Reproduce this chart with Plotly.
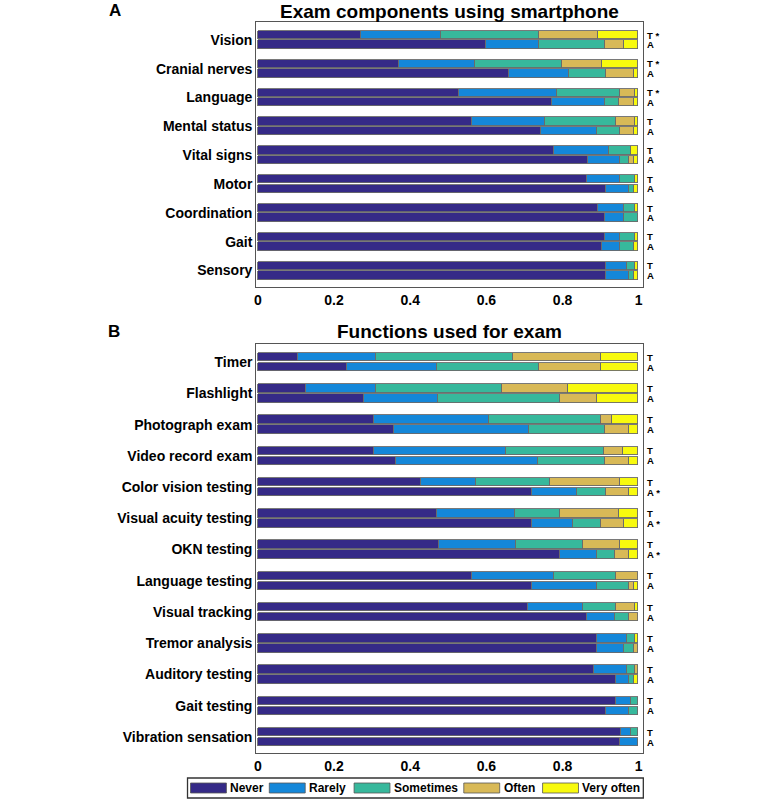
import plotly.graph_objects as go

# ---------------- data ----------------
levels = ["Never", "Rarely", "Sometimes", "Often", "Very often"]
colors = ["#352a87", "#1487d9", "#37b89c", "#d8b957", "#f8fa0e"]

exam_cats = ["Vision", "Cranial nerves", "Language", "Mental status", "Vital signs",
             "Motor", "Coordination", "Gait", "Sensory"]
exam_T_never     = [0.271, 0.372, 0.530, 0.564, 0.779, 0.864, 0.895, 0.913, 0.914]
exam_T_rarely    = [0.210, 0.199, 0.257, 0.192, 0.144, 0.087, 0.066, 0.038, 0.056]
exam_T_sometimes = [0.259, 0.229, 0.164, 0.186, 0.058, 0.039, 0.029, 0.039, 0.020]
exam_T_often     = [0.155, 0.105, 0.039, 0.049, 0.000, 0.000, 0.000, 0.000, 0.000]
exam_T_veryoften = [0.105, 0.095, 0.010, 0.009, 0.019, 0.010, 0.010, 0.010, 0.010]
exam_A_never     = [0.601, 0.659, 0.773, 0.744, 0.867, 0.916, 0.913, 0.904, 0.916]
exam_A_rarely    = [0.137, 0.158, 0.138, 0.146, 0.084, 0.059, 0.050, 0.047, 0.059]
exam_A_sometimes = [0.174, 0.098, 0.038, 0.061, 0.023, 0.013, 0.037, 0.037, 0.013]
exam_A_often     = [0.051, 0.074, 0.039, 0.037, 0.014, 0.000, 0.000, 0.000, 0.000]
exam_A_veryoften = [0.037, 0.011, 0.012, 0.012, 0.012, 0.012, 0.000, 0.012, 0.012]
exam_T_star = [True, True, True, False, False, False, False, False, False]
exam_A_star = [False] * 9

func_cats = ["Timer", "Flashlight", "Photograph exam", "Video record exam",
             "Color vision testing", "Visual acuity testing", "OKN testing",
             "Language testing", "Visual tracking", "Tremor analysis",
             "Auditory testing", "Gait testing", "Vibration sensation"]
func_T_never     = [0.107, 0.127, 0.305, 0.307, 0.428, 0.470, 0.477, 0.564, 0.710, 0.892, 0.884, 0.942, 0.953]
func_T_rarely    = [0.204, 0.184, 0.303, 0.346, 0.145, 0.205, 0.202, 0.214, 0.144, 0.078, 0.086, 0.039, 0.028]
func_T_sometimes = [0.359, 0.330, 0.294, 0.257, 0.194, 0.118, 0.175, 0.164, 0.088, 0.020, 0.021, 0.019, 0.019]
func_T_often     = [0.232, 0.175, 0.029, 0.049, 0.184, 0.156, 0.097, 0.058, 0.049, 0.000, 0.009, 0.000, 0.000]
func_T_veryoften = [0.098, 0.184, 0.069, 0.041, 0.049, 0.051, 0.049, 0.000, 0.009, 0.010, 0.000, 0.000, 0.000]
func_A_never     = [0.235, 0.280, 0.359, 0.363, 0.720, 0.720, 0.794, 0.720, 0.865, 0.890, 0.940, 0.916, 0.952]
func_A_rarely    = [0.235, 0.195, 0.355, 0.374, 0.120, 0.109, 0.096, 0.170, 0.074, 0.073, 0.035, 0.059, 0.048]
func_A_sometimes = [0.270, 0.318, 0.199, 0.175, 0.075, 0.073, 0.049, 0.085, 0.036, 0.025, 0.013, 0.025, 0.000]
func_A_often     = [0.162, 0.097, 0.062, 0.063, 0.060, 0.061, 0.036, 0.013, 0.025, 0.012, 0.000, 0.000, 0.000]
func_A_veryoften = [0.098, 0.110, 0.025, 0.025, 0.025, 0.037, 0.025, 0.012, 0.000, 0.000, 0.012, 0.000, 0.000]
func_T_star = [False] * 13
func_A_star = [False, False, False, False, True, True, True, False, False, False, False, False, False]

xticks = [0, 0.2, 0.4, 0.6, 0.8, 1]
xticktext = ["0", "0.2", "0.4", "0.6", "0.8", "1"]

# ---------------- layout helpers ----------------
W, H = 766, 799
FONT = "Liberation Sans, Arial, Helvetica, sans-serif"


def px(x):
    return x / W


def py(y):
    return 1 - y / H


fig = go.Figure()


def add_panel(cats, T_lists, A_lists, xa, ya, off, bw):
    n = len(cats)
    yT = [i - off for i in range(n)]
    yA = [i + off for i in range(n)]
    for k, lev in enumerate(levels):
        xs = [v if v > 0 else None for v in T_lists[k]] + [v if v > 0 else None for v in A_lists[k]]
        fig.add_trace(go.Bar(
            x=xs, y=yT + yA, orientation="h", name=lev,
            marker=dict(color=colors[k], line=dict(color="#6a6a6a", width=0.9)),
            width=bw, xaxis=xa, yaxis=ya, showlegend=False,
            hovertemplate=lev + ": %{x}<extra></extra>"))


add_panel(exam_cats,
          [exam_T_never, exam_T_rarely, exam_T_sometimes, exam_T_often, exam_T_veryoften],
          [exam_A_never, exam_A_rarely, exam_A_sometimes, exam_A_often, exam_A_veryoften],
          "x", "y", 0.165, 0.29)
add_panel(func_cats,
          [func_T_never, func_T_rarely, func_T_sometimes, func_T_often, func_T_veryoften],
          [func_A_never, func_A_rarely, func_A_sometimes, func_A_often, func_A_veryoften],
          "x2", "y2", 0.16, 0.27)

axis_common = dict(showline=True, mirror=True, linecolor="#555555", linewidth=1.3,
                   showgrid=False, zeroline=False, ticks="")
xcommon = dict(axis_common, range=[-0.004, 1.012], tickvals=xticks, ticktext=xticktext,
               tickfont=dict(family=FONT, size=14, color="black", weight="bold"))
ycommon = dict(axis_common, tickfont=dict(family=FONT, size=14, color="black", weight="bold"))

xdom = [px(255), px(643)]
fig.update_layout(
    width=W, height=H, margin=dict(l=0, r=0, t=0, b=0),
    paper_bgcolor="white", plot_bgcolor="white", barmode="stack", bargap=0,
    showlegend=False,
    xaxis=dict(xcommon, domain=xdom, anchor="y"),
    yaxis=dict(ycommon, domain=[py(287), py(22)], anchor="x",
               range=[8.57, -0.62], tickvals=list(range(len(exam_cats))), ticktext=exam_cats),
    xaxis2=dict(xcommon, domain=xdom, anchor="y2"),
    yaxis2=dict(ycommon, domain=[py(753), py(344)], anchor="x2",
                range=[12.51, -0.58], tickvals=list(range(len(func_cats))), ticktext=func_cats),
)

ann = []
# titles and panel letters
ann.append(dict(text="<b>Exam components using smartphone</b>", x=px(449), y=1.0,
                xref="paper", yref="paper", showarrow=False, xanchor="center", yanchor="top",
                borderpad=0, font=dict(family=FONT, size=19, color="black")))
ann.append(dict(text="<b>Functions used for exam</b>", x=px(449), y=py(331),
                xref="paper", yref="paper", showarrow=False, xanchor="center", yanchor="middle",
                font=dict(family=FONT, size=19, color="black")))
ann.append(dict(text="<b>A</b>", x=px(113), y=1.0, xref="paper", yref="paper",
                showarrow=False, xanchor="center", yanchor="top", borderpad=0,
                font=dict(family=FONT, size=17, color="black")))
ann.append(dict(text="<b>B</b>", x=px(112), y=py(331), xref="paper", yref="paper",
                showarrow=False, xanchor="center", yanchor="middle",
                font=dict(family=FONT, size=17, color="black")))


def ta_labels(n, tstar, astar, xref, yref, off):
    for i in range(n):
        for lab, yy, st in (("T", i - off, tstar[i]), ("A", i + off, astar[i])):
            ann.append(dict(text="<b>" + lab + (" *" if st else "") + "</b>",
                            x=1.008, y=yy, xref=xref + " domain", yref=yref,
                            showarrow=False, xanchor="left", yanchor="middle", borderpad=0,
                            font=dict(family=FONT, size=9.5, color="black")))


ta_labels(len(exam_cats), exam_T_star, exam_A_star, "x", "y", 0.165)
ta_labels(len(func_cats), func_T_star, func_A_star, "x2", "y2", 0.16)

# legend (drawn as boxed key)
shapes = [dict(type="rect", xref="paper", yref="paper", x0=px(186), x1=px(643),
               y0=py(798), y1=py(778), line=dict(color="#333333", width=1.3),
               fillcolor="white")]
sw_x = [189, 268, 353, 463, 542]
for k, lev in enumerate(levels):
    x0 = sw_x[k]
    shapes.append(dict(type="rect", xref="paper", yref="paper", x0=px(x0), x1=px(x0 + 36),
                       y0=py(793), y1=py(783), line=dict(color="#555555", width=0.8),
                       fillcolor=colors[k]))
    ann.append(dict(text="<b>" + lev + "</b>", x=px(x0 + 38), y=py(788), xref="paper",
                    yref="paper", showarrow=False, xanchor="left", yanchor="middle",
                    font=dict(family=FONT, size=12, color="black")))

fig.update_layout(annotations=ann, shapes=shapes)
fig.write_html("out.html", config={"displayModeBar": False},
               post_script="document.body.style.margin='0';document.body.style.padding='0';")
